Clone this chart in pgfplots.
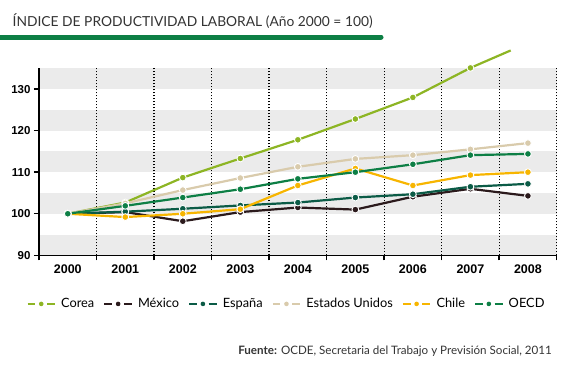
\documentclass[border=0pt]{standalone}
\usepackage{pgfplots}
\pgfplotsset{compat=1.18}
\usetikzlibrary{calc}
\usepackage{fontspec}
\setmainfont{Lato}
\newfontfamily\tickfont{Liberation Sans}
\definecolor{corea}{HTML}{8DB524}
\definecolor{mexico}{HTML}{2B1A1C}
\definecolor{espana}{HTML}{0B5B46}
\definecolor{eeuu}{HTML}{D9CBAC}
\definecolor{chile}{HTML}{F7B500}
\definecolor{oecd}{HTML}{0D7F45}
\definecolor{band}{HTML}{EBEBEB}
\definecolor{titlegray}{HTML}{333333}
\begin{document}
\begin{tikzpicture}
\begin{axis}[
  width=517.7pt, height=187pt, scale only axis,
  xmin=-0.5, xmax=8.5, ymin=90, ymax=135,
  clip=false, axis on top,
  axis x line*=bottom, axis y line*=left,
  axis line style={line width=1.6pt, black, -},
  xtick={0,...,8},
  xticklabels={2000,2001,2002,2003,2004,2005,2006,2007,2008},
  minor xtick={-0.5,0.5,...,8.5},
  major x tick style={draw=none},
  minor x tick style={line width=1.4pt, black},
  ytick={90,100,...,130},
  y tick style={line width=1.4pt, black},
  tick align=outside,
  major tick length=5pt, minor tick length=5pt,
  /pgf/number format/assume math mode=true,
  xticklabel style={font=\tickfont\bfseries\fontsize{12.5}{13}\selectfont, yshift=-1pt},
  yticklabel style={font=\tickfont\bfseries\fontsize{11.5}{13}\selectfont},
  every axis plot/.append style={line width=2.2pt, mark=*, mark size=3.4pt},
  legend columns=6,
  legend style={at={(0.478,-0.26)}, anchor=center, draw=none, fill=none,
    font=\fontsize{12.8}{14}\selectfont, text=black,
    /tikz/every odd column/.append style={column sep=3pt},
    /tikz/every even column/.append style={column sep=7pt}},
  legend image code/.code={%
    \draw[#1,mark=none,line width=2.2pt] (0pt,0pt) -- (7.7pt,0pt);
    \draw[#1,mark=none,line width=2.2pt] (19.5pt,0pt) -- (27.5pt,0pt);
    \fill[#1,draw=none] (13.7pt,0pt) circle (2.3pt);},
]
\coordinate (BL) at (rel axis cs:0,0);
\fill[band] (axis cs:-0.5,90) rectangle (axis cs:8.5,95);
\fill[band] (axis cs:-0.5,100) rectangle (axis cs:8.5,105);
\fill[band] (axis cs:-0.5,110) rectangle (axis cs:8.5,115);
\fill[band] (axis cs:-0.5,120) rectangle (axis cs:8.5,125);
\fill[band] (axis cs:-0.5,130) rectangle (axis cs:8.5,135);
\pgfplotsinvokeforeach{0.5,1.5,2.5,3.5,4.5,5.5,6.5,7.5,8.5}{
  \draw[black, line width=1.2pt, dash pattern=on 1.5pt off 1.5pt] (axis cs:#1,90) -- (axis cs:#1,135);
}
\addplot[color=corea, mark options={fill=corea, draw=white, line width=0.9pt}, mark indices={1,2,3,4,5,6,7,8}]
  coordinates {(0,100) (1,102.7) (2,108.7) (3,113.3) (4,117.8) (5,122.8) (6,128.0) (7,135.1) (7.7,139.3)};
\addlegendentry{Corea}
\addplot[color=mexico, mark options={fill=mexico, draw=white, line width=0.9pt}]
  coordinates {(0,100) (1,100.4) (2,98.2) (3,100.4) (4,101.5) (5,101.0) (6,104.1) (7,106.0) (8,104.3)};
\addlegendentry{México}
\addplot[color=espana, mark options={fill=espana, draw=white, line width=0.9pt}]
  coordinates {(0,100) (1,100.5) (2,101.2) (3,102.0) (4,102.7) (5,103.9) (6,104.7) (7,106.5) (8,107.2)};
\addlegendentry{España}
\addplot[color=eeuu, mark options={fill=eeuu, draw=white, line width=0.9pt}]
  coordinates {(0,100) (1,102.5) (2,105.7) (3,108.6) (4,111.3) (5,113.2) (6,114.1) (7,115.5) (8,117.0)};
\addlegendentry{Estados Unidos}
\addplot[color=chile, mark options={fill=chile, draw=white, line width=0.9pt}]
  coordinates {(0,100) (1,99.2) (2,100.0) (3,101.1) (4,106.8) (5,110.9) (6,106.8) (7,109.3) (8,110.0)};
\addlegendentry{Chile}
\addplot[color=oecd, mark options={fill=oecd, draw=white, line width=0.9pt}]
  coordinates {(0,100) (1,101.9) (2,103.9) (3,105.9) (4,108.4) (5,110.0) (6,111.9) (7,114.1) (8,114.4)};
\addlegendentry{OECD}
\end{axis}
\coordinate (O) at ($(BL)+(-39pt,-109.7pt)$);
\begin{scope}[shift={(O)}, x=1pt, y=1pt]
\node[anchor=base west, inner sep=0, text=titlegray, font=\fontsize{13.8}{16}\selectfont] at (12.5,338.3) {ÍNDICE DE PRODUCTIVIDAD LABORAL (Año 2000 = 100)};
\draw[line width=5pt, oecd, line cap=round] (-6,328) -- (381,328);
\node[anchor=base east, inner sep=0, text=titlegray, font=\fontsize{11.6}{13}\selectfont] at (552,11) {\textbf{Fuente:} OCDE, Secretaria del Trabajo y Previsión Social, 2011};
\end{scope}
\pgfresetboundingbox
\path[use as bounding box] (O) rectangle ++(564pt,365pt);
\end{tikzpicture}
\end{document}
